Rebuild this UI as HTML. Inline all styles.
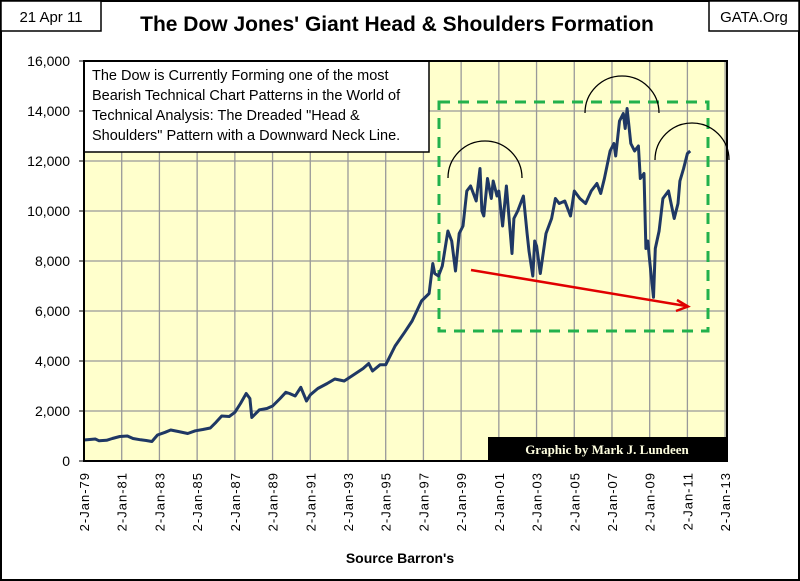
<!DOCTYPE html>
<html><head><meta charset="utf-8"><style>
html,body{margin:0;padding:0;background:#fff;}
svg{display:block;font-family:"Liberation Sans",sans-serif;}
</style></head><body>
<svg id="chart" width="800" height="581" viewBox="0 0 800 581">
<rect x="1" y="1" width="798" height="579" fill="#fff" stroke="#000" stroke-width="2"/>
<rect x="1" y="1" width="100" height="30" fill="#fff" stroke="#000" stroke-width="1.5"/>
<text x="51" y="22" font-size="15" text-anchor="middle">21 Apr 11</text>
<rect x="709" y="1" width="90" height="30" fill="#fff" stroke="#000" stroke-width="1.5"/>
<text x="754" y="22" font-size="15" text-anchor="middle">GATA.Org</text>
<text x="397" y="31" font-size="21" font-weight="bold" text-anchor="middle">The Dow Jones' Giant Head &amp; Shoulders Formation</text>
<rect x="84" y="61" width="643" height="400" fill="#FFFFCC"/>
<g id="grid"></g>
<g id="axes"></g>
<rect x="84" y="61" width="345" height="91" fill="#fff" stroke="#000" stroke-width="1.5"/>
<text font-size="14.5">
<tspan x="92" y="80">The Dow is Currently Forming one of the most</tspan>
<tspan x="92" y="100">Bearish Technical Chart Patterns in the World of</tspan>
<tspan x="92" y="120">Technical Analysis: The Dreaded "Head &amp;</tspan>
<tspan x="92" y="140">Shoulders" Pattern with a Downward Neck Line.</tspan>
</text>
<rect x="439" y="102" width="269" height="229" fill="none" stroke="#22B14C" stroke-width="3" stroke-dasharray="11,8"/>
<path d="M448,178 A37,37 0 0 1 522,178" fill="none" stroke="#000" stroke-width="1.3"/>
<path d="M585,113 A37,37 0 0 1 659,113" fill="none" stroke="#000" stroke-width="1.3"/>
<path d="M655,160 A37,37 0 0 1 729,160" fill="none" stroke="#000" stroke-width="1.3"/>
<g id="series"></g>
<line x1="471" y1="270" x2="686" y2="306" stroke="#E00000" stroke-width="2.5"/>
<path d="M677,300 L688,306.5 L676,311" fill="none" stroke="#E00000" stroke-width="2.5"/>
<rect x="488" y="437" width="239" height="24" fill="#000"/>
<text x="607" y="454" font-size="13" font-weight="bold" fill="#FFFFE0" text-anchor="middle" font-family="Liberation Serif,serif">Graphic by Mark J. Lundeen</text>
<rect x="84" y="61" width="643" height="400" fill="none" stroke="#000" stroke-width="2"/>
<text x="400" y="563" font-size="14" font-weight="bold" text-anchor="middle">Source Barron's</text>
</svg>
<script>
const yTicks=[0,2000,4000,6000,8000,10000,12000,14000,16000];
const xTickYears=[1979,1981,1983,1985,1987,1989,1991,1993,1995,1997,1999,2001,2003,2005,2007,2009,2011,2013];
const dates=[1979,1979.3,1979.6,1979.8,1980.2,1980.5,1980.9,1981.3,1981.6,1982,1982.3,1982.6,1982.9,1983.3,1983.6,1984,1984.5,1984.9,1985.3,1985.7,1986,1986.3,1986.7,1987,1987.3,1987.6,1987.8,1987.9,1988.3,1988.7,1989,1989.4,1989.7,1989.9,1990.2,1990.5,1990.8,1991,1991.4,1991.9,1992.3,1992.8,1993.2,1993.8,1994.1,1994.3,1994.7,1995,1995.5,1996,1996.4,1996.9,1997.3,1997.5,1997.6,1997.8,1998,1998.3,1998.5,1998.7,1998.9,1999.1,1999.3,1999.5,1999.8,2000,2000.1,2000.2,2000.4,2000.6,2000.7,2000.9,2001,2001.2,2001.4,2001.7,2001.8,2002,2002.3,2002.5,2002.6,2002.8,2002.9,2003,2003.2,2003.5,2003.8,2004,2004.2,2004.5,2004.8,2005,2005.3,2005.6,2005.9,2006.2,2006.4,2006.6,2006.9,2007.1,2007.2,2007.4,2007.6,2007.7,2007.8,2008,2008.2,2008.4,2008.5,2008.7,2008.8,2008.9,2009,2009.2,2009.3,2009.5,2009.7,2010,2010.3,2010.5,2010.6,2010.8,2011,2011.15,2011.3];
const dowValues=[840,860,880,810,830,900,980,1000,900,850,820,780,1040,1150,1240,1180,1100,1210,1260,1320,1550,1800,1780,1950,2300,2700,2500,1740,2050,2100,2200,2500,2750,2700,2600,2950,2400,2650,2900,3100,3280,3200,3400,3700,3900,3600,3850,3850,4600,5150,5600,6400,6700,7900,7500,7400,7800,9200,8800,7600,9100,9400,10800,11000,10400,11700,10000,9800,11300,10500,11200,10600,10800,9400,11000,8300,9700,10000,10600,9100,8400,7400,8800,8600,7500,9100,9700,10500,10300,10400,9800,10800,10500,10300,10800,11100,10700,11300,12400,12700,12200,13600,13900,13300,14100,12700,12400,12600,11300,11500,8500,8800,8000,6550,8500,9200,10500,10800,9700,10300,11200,11700,12300,12400];
const X0=84,X1=727,Y0=461,Y1=61;
const xs=y=>X0+(y-1979)*(X1-X0)/(2013.1-1979);
const ys=v=>Y0-v*(Y0-Y1)/16000;
const NS='http://www.w3.org/2000/svg';
const grid=document.getElementById('grid'),axes=document.getElementById('axes'),series=document.getElementById('series');
yTicks.forEach(t=>{
  const y=ys(t);
  if(t>0&&t<16000){const l=document.createElementNS(NS,'line');
  l.setAttribute('x1',X0);l.setAttribute('x2',X1);l.setAttribute('y1',y);l.setAttribute('y2',y);
  l.setAttribute('stroke','#999');l.setAttribute('stroke-width','1.3');
  
  
  grid.appendChild(l);}
  const tk=document.createElementNS(NS,'line');
  tk.setAttribute('x1',X0-5);tk.setAttribute('x2',X0);tk.setAttribute('y1',y);tk.setAttribute('y2',y);tk.setAttribute('stroke','#000');
  
  
  axes.appendChild(tk);
  const tx=document.createElementNS(NS,'text');
  tx.setAttribute('x',X0-14);tx.setAttribute('y',y+5);tx.setAttribute('text-anchor','end');tx.setAttribute('font-size','14');
  tx.textContent=t.toLocaleString('en-US');
  
  
  axes.appendChild(tx);
});
xTickYears.forEach(yr=>{
  const x=xs(yr);
  if(yr>1979){const l=document.createElementNS(NS,'line');
  l.setAttribute('x1',x);l.setAttribute('x2',x);l.setAttribute('y1',Y1);l.setAttribute('y2',Y0);
  l.setAttribute('stroke','#999');l.setAttribute('stroke-width','1.3');
  
  
  grid.appendChild(l);}
  const tx=document.createElementNS(NS,'text');
  tx.setAttribute('transform','translate('+(x+5)+',472) rotate(-90)');
  tx.setAttribute('text-anchor','end');tx.setAttribute('font-size','13');tx.setAttribute('letter-spacing','1');
  tx.textContent='2-Jan-'+String(yr).slice(2);
  
  
  axes.appendChild(tx);
});
const p=document.createElementNS(NS,'path');
p.setAttribute('d',dates.map((d,i)=>(i?'L':'M')+xs(d).toFixed(1)+','+ys(dowValues[i]).toFixed(1)).join(' '));
p.setAttribute('fill','none');p.setAttribute('stroke','#1F3864');p.setAttribute('stroke-width','3');p.setAttribute('stroke-linejoin','round');


series.appendChild(p);
</script>
</body></html>
